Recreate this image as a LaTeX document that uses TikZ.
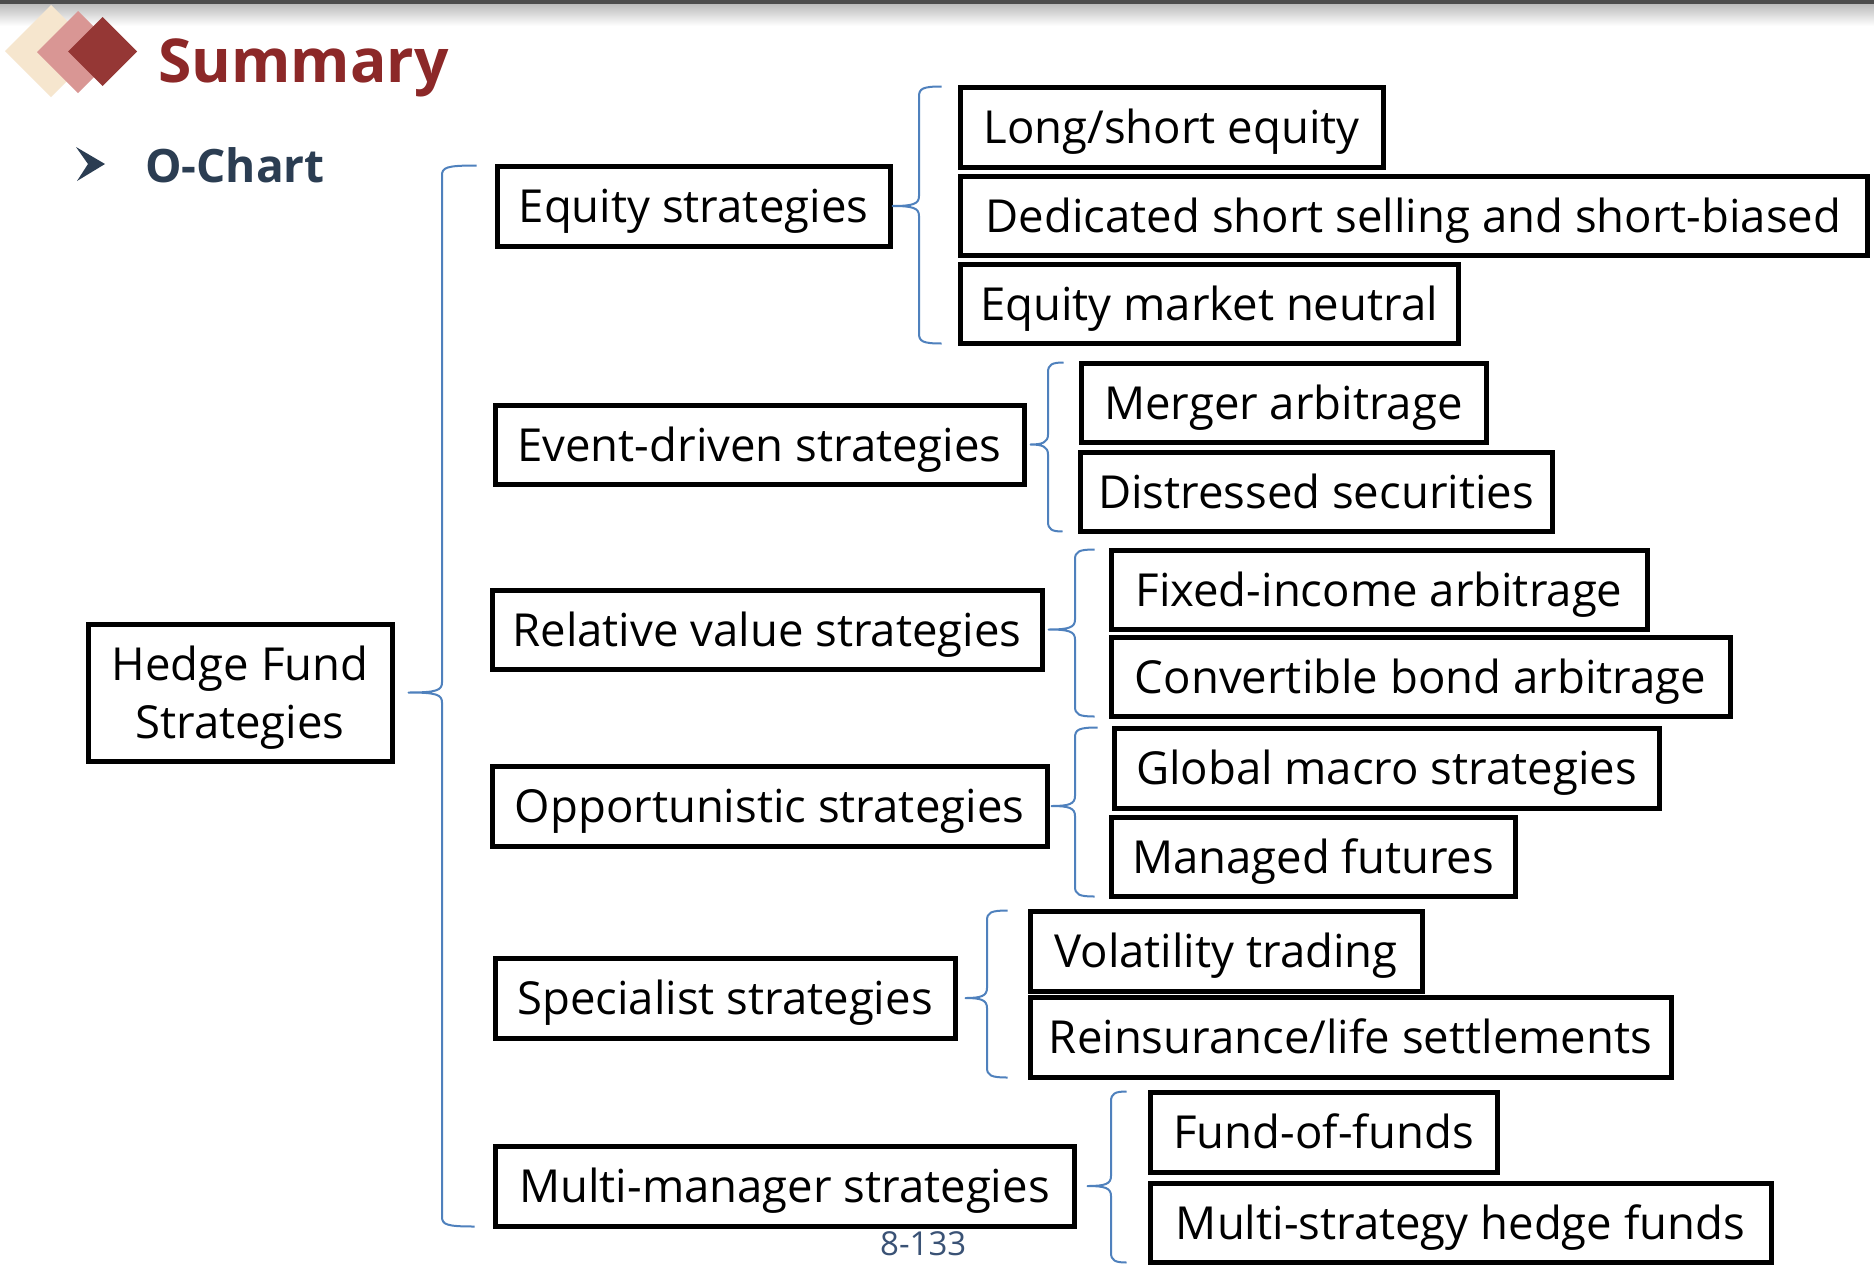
\documentclass[tikz,border=0pt]{standalone}
\usepackage{fontspec}
\setmainfont{Open Sans}
\usetikzlibrary{calc}

\definecolor{cream}{HTML}{F6E6CE}
\definecolor{rose}{HTML}{D99694}
\definecolor{wine}{HTML}{953735}
\definecolor{titlered}{HTML}{8C2828}
\definecolor{navy}{HTML}{2B3D52}
\definecolor{forkblue}{HTML}{4F81BD}
\definecolor{pagenum}{HTML}{3A5275}

\tikzset{
  box/.style={draw=black, line width=5pt, rectangle, inner sep=0pt,
              font=\fontsize{45.5}{56}\selectfont, align=center},
  oneline/.style={text height=33pt, text depth=0pt},
  forkline/.style={draw=forkblue, line width=2pt, line join=round}
}

% box from its corners: name, x1, y1, x2, y2, text
\newcommand\bx[6]{%
  \node[box, oneline, minimum width={(#4-#2)*1pt}, minimum height={(#5-#3)*1pt}]
    (#1) at ({(#2+#4)/2},{(#3+#5)/2}) {#6};}

% curly fork: parent, top child, bottom child, spine x, tip gap, tick gap
\newcommand\fork[6]{%
  \draw[forkline] let \p1=(#1.east), \p2=(#2.north west), \p3=(#3.south west) in
    (\x2-#6, \y2-2pt)
    .. controls (#4+4pt, \y2-2pt) and (#4, \y2-4pt) .. (#4, \y2-12pt)
    -- (#4, \y1+10pt)
    .. controls (#4, \y1+2pt) and (#4-6pt, \y1) .. (\x1+#5, \y1)
    .. controls (#4-6pt, \y1) and (#4, \y1-2pt) .. (#4, \y1-10pt)
    -- (#4, \y3+12pt)
    .. controls (#4, \y3+4pt) and (#4+4pt, \y3+2pt) .. (\x3-#6, \y3+2pt);}

\begin{document}
\begin{tikzpicture}[x=1pt, y=-1pt]
\useasboundingbox (0,0) rectangle (1874,1266);
\fill[white] (0,0) rectangle (1874,1266);

% top rule with its shadow
\shade[top color=gray!55, bottom color=white] (0,3) rectangle (1874,26);
\fill[gray!60!black] (0,0) rectangle (1874,3.5);

% header mark
\fill[cream] (5,51) -- (51,5) -- (97,51) -- (51,97) -- cycle;
\fill[rose] (37,52) -- (78,11) -- (119,52) -- (78,93) -- cycle;
\fill[wine] (68,51.5) -- (102.5,17) -- (137,51.5) -- (102.5,86) -- cycle;

\node[anchor=base west, inner sep=0pt, text=titlered,
      font=\fontsize{60.5}{70}\selectfont\bfseries] (title) at (158,82) {Summary};

\fill[navy] (76,147) -- (105,164) -- (77,181) -- (88,164) -- cycle;
\node[anchor=base west, inner sep=0pt, text=navy,
      font=\fontsize{46}{52}\selectfont\bfseries] (sub) at (145,182) {O-Chart};

% root
\node[draw=black, line width=5pt, rectangle, inner sep=0pt,
      minimum width=304pt, minimum height=137pt, align=center,
      font=\fontsize{45.5}{58}\selectfont] (hf) at (240,692.5)
      {\rule{0pt}{52pt}Hedge Fund\\Strategies\strut};

% strategy groups
\bx{eq}{497}{166}{890}{246}{Equity strategies}
\bx{ev}{495}{405}{1024}{484}{Event-driven strategies}
\bx{rv}{492}{590}{1042}{669}{Relative value strategies}
\bx{op}{492}{766}{1047}{846}{Opportunistic strategies}
\bx{sp}{495}{958}{955}{1038}{Specialist strategies}
\bx{mm}{495}{1146}{1074}{1226}{Multi-manager strategies}

% individual strategies
\bx{ls}{960}{87}{1383}{167}{Long/short equity}
\bx{ds}{960}{176}{1867}{255}{Dedicated short selling and short-biased}
\bx{emn}{960}{264}{1458}{343}{Equity market neutral}
\bx{ma}{1081}{363}{1486}{442}{Merger arbitrage}
\bx{dsec}{1080}{452}{1552}{531}{Distressed securities}
\bx{fi}{1111}{550}{1647}{629}{Fixed-income arbitrage}
\bx{cb}{1111}{637}{1730}{716}{Convertible bond arbitrage}
\bx{gm}{1114}{728}{1659}{808}{Global macro strategies}
\bx{mf}{1111}{817}{1515}{896}{Managed futures}
\bx{vt}{1030}{911}{1422}{991}{Volatility trading}
\bx{rl}{1030}{997}{1671}{1077}{Reinsurance/life settlements}
\bx{ff}{1150}{1092}{1497}{1172}{Fund-of-funds}
\bx{msh}{1150}{1183}{1771}{1262}{Multi-strategy hedge funds}

% forks
\fork{hf}{eq}{mm}{442pt}{14pt}{18pt}
\fork{eq}{ls}{emn}{919pt}{0pt}{16pt}
\fork{ev}{ma}{dsec}{1048pt}{4pt}{15pt}
\fork{rv}{fi}{cb}{1075pt}{4pt}{14pt}
\fork{op}{gm}{mf}{1075pt}{2pt}{14pt}
\fork{sp}{vt}{rl}{987pt}{8pt}{20pt}
\fork{mm}{ff}{msh}{1111pt}{11pt}{21pt}

% page number
\node[anchor=north west, inner sep=0pt, text=pagenum,
      font=\fontsize{33}{38}\selectfont] (page) at (880,1231) {8-133};
\end{tikzpicture}
\end{document}
